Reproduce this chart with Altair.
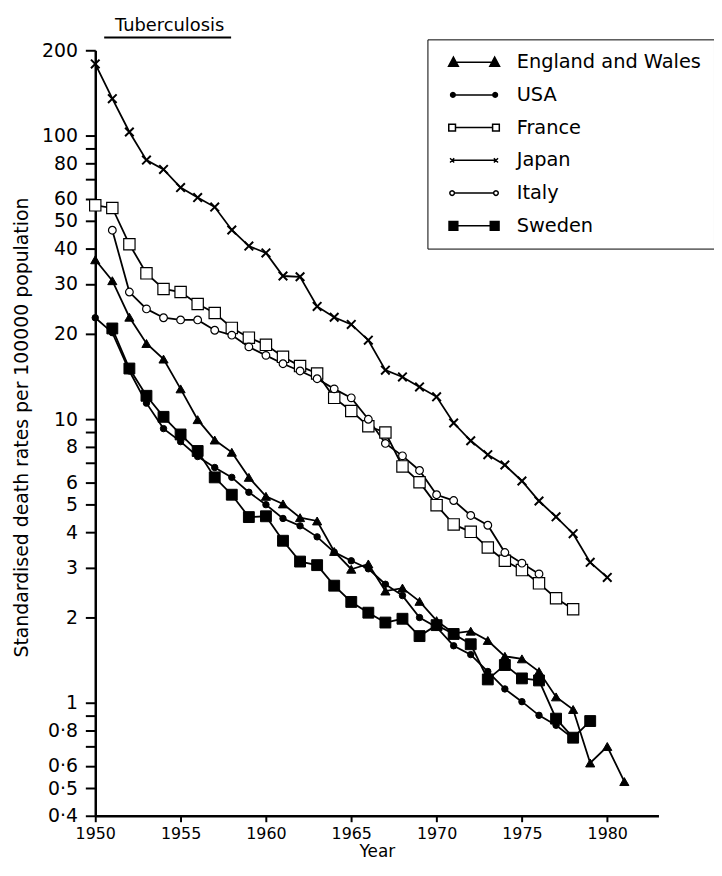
import math
import altair as alt
import pandas as pd

# ---------------- data ----------------
countries = ["England and Wales", "USA", "France", "Japan", "Italy", "Sweden"]

england_years = list(range(1950, 1982))
england_rates = [36.5, 30.8, 22.9, 18.5, 16.3, 12.8, 9.97, 8.45, 7.65, 6.24, 5.35, 5.03,
                 4.50, 4.38, 3.42, 2.96, 3.09, 2.48, 2.54, 2.28, 1.95, 1.76, 1.79, 1.66,
                 1.46, 1.43, 1.29, 1.05, 0.948, 0.614, 0.702, 0.528]

usa_years = list(range(1950, 1979))
usa_rates = [22.8, 20.2, 14.8, 11.4, 9.27, 8.34, 7.39, 6.76, 6.24, 5.53, 5.0, 4.47, 4.21,
             3.85, 3.40, 3.17, 2.97, 2.62, 2.39, 2.0, 1.85, 1.59, 1.48, 1.29, 1.12, 1.01,
             0.904, 0.834, 0.75]

france_years = list(range(1950, 1979))
france_rates = [56.8, 55.6, 41.4, 32.7, 28.8, 28.1, 25.5, 23.7, 21.0, 19.4, 18.3, 16.6,
                15.4, 14.5, 11.9, 10.7, 9.45, 8.98, 6.82, 6.0, 4.98, 4.26, 4.01, 3.53,
                3.17, 2.94, 2.64, 2.34, 2.14]

japan_years = list(range(1950, 1981))
japan_rates = [179, 135, 103, 82, 76, 65.6, 60.5, 56, 46.5, 40.8, 38.6, 32.0, 31.8, 25.0,
               22.9, 21.6, 19.0, 14.9, 14.1, 13.0, 12.0, 9.7, 8.4, 7.5, 6.9, 6.06, 5.15,
               4.53, 3.95, 3.13, 2.77]

italy_years = list(range(1951, 1977))
italy_rates = [46.4, 28.1, 24.5, 22.8, 22.4, 22.4, 20.6, 19.8, 18.0, 16.8, 15.7, 14.8,
               13.9, 12.8, 11.9, 10.0, 8.22, 7.43, 6.6, 5.42, 5.17, 4.58, 4.23, 3.39,
               3.11, 2.85]

sweden_years = list(range(1951, 1980))
sweden_rates = [20.9, 15.1, 12.1, 10.2, 8.84, 7.73, 6.24, 5.42, 4.52, 4.55, 3.73, 3.15,
                3.06, 2.59, 2.27, 2.08, 1.92, 1.98, 1.72, 1.88, 1.75, 1.61, 1.21, 1.36,
                1.22, 1.20, 0.88, 0.754, 0.863]

x_ticks = [1950, 1955, 1960, 1965, 1970, 1975, 1980]
y_ticks = [200, 100, 90, 80, 70, 60, 50, 40, 30, 20, 10, 9, 8, 7, 6, 5, 4, 3, 2, 1,
           0.9, 0.8, 0.7, 0.6, 0.5, 0.4]
y_tick_labels = ["200", "100", "", "80", "", "60", "50", "40", "30", "20", "10", "", "8",
                 "", "6", "5", "4", "3", "2", "1", "", "0·8", "", "0·6", "0·5", "0·4"]

chart_title = ["Tuberculosis"]

# ---------------- table ----------------
series = [
    ("England and Wales", england_years, england_rates),
    ("USA", usa_years, usa_rates),
    ("France", france_years, france_rates),
    ("Japan", japan_years, japan_rates),
    ("Italy", italy_years, italy_rates),
    ("Sweden", sweden_years, sweden_rates),
]
rows = []
for name, yrs, vals in series:
    for yr, v in zip(yrs, vals):
        rows.append({"country": name, "marker": name, "year": yr, "rate": v})
df = pd.DataFrame(rows)

# ---------------- styling helpers ----------------
FONT = "DejaVu Sans"
X_PATH = "M-1,-1L1,1M-1,1L1,-1"


def f(v):
    return f"{v:.3f}"


def seg(a, b):
    return f"M{f(a)},0L{f(b)},0"


def circ(cx, r, n=12):
    pts = [(cx + r * math.cos(2 * math.pi * k / n), r * math.sin(2 * math.pi * k / n)) for k in range(n)]
    return "M" + "L".join(f"{f(x)},{f(y)}" for x, y in pts) + "Z"


def sq(cx, h):
    return f"M{f(cx-h)},{f(-h)}L{f(cx+h)},{f(-h)}L{f(cx+h)},{f(h)}L{f(cx-h)},{f(h)}Z"


def tri(cx, hw, h):
    return f"M{f(cx-hw)},{f(h*0.45)}L{f(cx)},{f(-h*0.55)}L{f(cx+hw)},{f(h*0.45)}Z"


def xm(cx, h):
    return f"M{f(cx-h)},{f(-h)}L{f(cx+h)},{f(h)}M{f(cx-h)},{f(h)}L{f(cx+h)},{f(-h)}"


legend_paths = {
    "England and Wales": seg(-0.8, 0.8) + tri(-0.8, 0.19, 0.36) + tri(0.8, 0.19, 0.36),
    "USA": seg(-0.8, 0.8) + circ(-0.82, 0.09) + circ(0.82, 0.09),
    "France": seg(-0.72, 0.72) + sq(-0.85, 0.13) + sq(0.85, 0.13),
    "Japan": seg(-0.85, 0.85) + xm(-0.85, 0.08) + xm(0.85, 0.08),
    "Italy": seg(-0.76, 0.76) + circ(-0.85, 0.09) + circ(0.85, 0.09),
    "Sweden": seg(-0.8, 0.8) + sq(-0.8, 0.17) + sq(0.8, 0.17),
}
shape_expr = "'" + legend_paths[countries[-1]] + "'"
for c in reversed(countries[:-1]):
    shape_expr = f"datum.value == '{c}' ? '{legend_paths[c]}' : " + shape_expr
fill_expr = "indexof(['France', 'Italy'], datum.value) >= 0 ? 'white' : 'black'"

label_expr = ("[" + ",".join("'" + s + "'" for s in y_tick_labels) + "][indexof(["
              + ",".join(str(v) for v in y_ticks) + "], datum.value)]")

x_enc = alt.X("year:Q",
              scale=alt.Scale(domain=[1950, 1983], nice=False, zero=False),
              axis=alt.Axis(values=x_ticks, format="d", title="Year", grid=False,
                            labelFlush=False, labelOverlap=False,
                            tickSize=6, labelPadding=4, labelFontSize=16,
                            titleFontSize=17, titleFontWeight="normal",
                            titleY=41, titleBaseline="alphabetic",
                            domainWidth=2.5, tickWidth=2))
y_enc = alt.Y("rate:Q",
              scale=alt.Scale(type="log", domain=[0.4, 200], nice=False),
              axis=alt.Axis(values=y_ticks, labelExpr=label_expr,
                            labelFlush=False, labelOverlap=False,
                            title="Standardised death rates per 100000 population",
                            grid=False, tickSize=10, labelPadding=8, labelFontSize=19,
                            titleFontSize=19, titleFontWeight="normal",
                            titleX=-68, titleY=380, titleBaseline="alphabetic",
                            domainWidth=2.5, tickWidth=2))

base = alt.Chart(df)

lines = base.mark_line(strokeWidth=1.8).encode(
    x=x_enc,
    y=y_enc,
    order="year:Q",
    color=alt.Color("country:N",
                    scale=alt.Scale(domain=countries, range=["black"] * 6),
                    legend=alt.Legend(
                        title=None, orient="none", legendX=335, legendY=-11,
                        strokeColor="black", fillColor="white", padding=13,
                        rowPadding=13, clipHeight=20,
                        symbolType=alt.ExprRef(expr=shape_expr),
                        symbolFillColor=alt.ExprRef(expr=fill_expr),
                        symbolSize=2704, symbolStrokeWidth=1.5, symbolOffset=7,
                        labelFontSize=19.5, labelOffset=16, labelFont=FONT,
                        labelColor="black", labelLimit=400)),
)

points = base.mark_point(opacity=1, stroke="black").encode(
    x="year:Q",
    y="rate:Q",
    shape=alt.Shape("marker:N", sort=countries, scale=alt.Scale(
        range=["triangle-up", "circle", "square", X_PATH, "circle", "square"]), legend=None),
    fill=alt.Fill("marker:N", sort=countries, scale=alt.Scale(
        range=["black", "black", "white", "black", "white", "black"]), legend=None),
    size=alt.Size("marker:N", sort=countries, scale=alt.Scale(
        type="ordinal", range=[85, 42, 130, 75, 60, 120]), legend=None),
    strokeWidth=alt.StrokeWidth("marker:N", sort=countries, scale=alt.Scale(
        type="ordinal", range=[1.0, 1.0, 1.2, 2.0, 1.2, 1.0]), legend=None),
)

title_df = pd.DataFrame({"t": chart_title})
title_text = alt.Chart(title_df).mark_text(
    fontSize=18, font=FONT, align="center", baseline="alphabetic", color="black"
).encode(text="t:N", x=alt.value(75), y=alt.value(-19))
underline = alt.Chart(title_df).mark_rule(strokeWidth=2, color="black").encode(
    x=alt.value(9), x2=alt.value(137), y=alt.value(-13))

chart = alt.layer(lines, points, title_text, underline).properties(
    width=568, height=772,
    autosize=alt.AutoSizeParams(type="none"),
    padding={"left": 88, "top": 39, "right": 56, "bottom": 44},
).resolve_legend(
    color="independent", shape="independent", fill="independent", size="independent",
    strokeWidth="independent"
).configure(font=FONT).configure_view(stroke=None).configure_axis(
    labelColor="black", titleColor="black", domainColor="black", tickColor="black",
    labelFont=FONT, titleFont=FONT,
)

chart.save("out.html", embed_options={"renderer": "svg", "actions": False})
